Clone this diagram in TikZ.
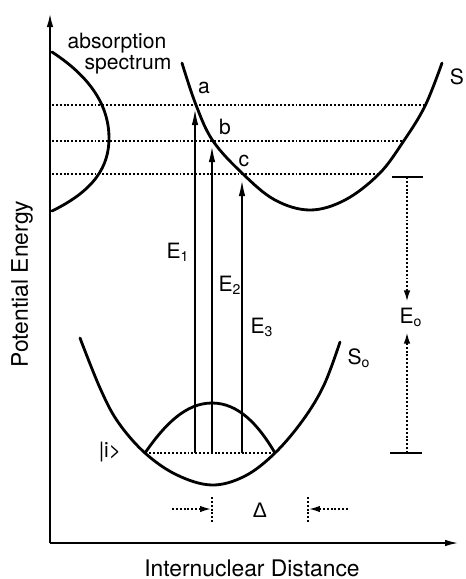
\documentclass[tikz,border=0pt]{standalone}
\usepackage{fontspec}
\setmainfont{TeX Gyre Heros}
\newfontfamily\greekfont{Liberation Sans}
\usetikzlibrary{arrows.meta}

\begin{document}
\begin{tikzpicture}[x=0.02cm, y=-0.02cm,
    font=\fontsize{12}{14}\selectfont,
    curve/.style={line width=1.6pt, line cap=round},
    axis/.style={line width=0.8pt, -{Latex[length=2.6mm, width=1.3mm]}},
    level/.style={line width=0.9pt, dash pattern=on 1.1pt off 1.1pt},
    transition/.style={line width=0.6pt, -{Latex[length=3mm, width=1.3mm]}},
    gaparrow/.style={level, -{Latex[length=2.2mm, width=1.3mm]}},
    bar/.style={line width=0.9pt},
    axislabel/.style={font=\fontsize{13}{15}\selectfont},
]
\useasboundingbox (0,0) rectangle (466,579);

% ─── Axes ────────────────────────────────────────────────────────
\coordinate (origin) at (50,543);
\coordinate (ytop)   at (50,14);
\coordinate (xend)   at (458,543);
\draw[axis] (origin) -- (ytop);
\draw[axis] (origin) -- (xend);

\node[axislabel, rotate=90] (ylab) at (22,284) {Potential Energy};
\node[axislabel] (xlab) at (252,568) {Internuclear Distance};

% ─── Absorption spectrum ─────────────────────────────────────────
\draw[curve] (52,52) .. controls (95,80) and (109,110) .. (109,138)
  .. controls (109,166) and (95,190) .. (52,211);
\node (abs)  at (117,43) {absorption};
\node (spec) at (128,65) {spectrum};

% ─── Excited state S ─────────────────────────────────────────────
\draw[curve] plot[smooth, tension=0.6] coordinates {
  (182,63) (196,105) (213,141) (243,174) (275,200) (310,210)
  (345,200) (379,174) (403,142) (425,106) (442,63)};
\node (labS) at (457,77) {S};

% ─── Ground state S0 and vibrational level ───────────────────────
\draw[curve] plot[smooth, tension=0.6] coordinates {
  (80,338) (100,388) (118,422) (145,453) (177,475) (212,485)
  (245,476) (275,453) (303,420) (324,385) (340,342)};
\node (labSo) at (359,358) {S\textsubscript{o}};

\coordinate (il) at (145,453);
\coordinate (ir) at (275,453);
\draw[curve] (il) .. controls (165,424) and (186,403) .. (212,403)
  .. controls (238,403) and (258,424) .. (ir);
\draw[level] (il) -- (ir);
\node (labI) at (110,452) {|i>};

% ─── Dotted levels a, b, c ───────────────────────────────────────
\coordinate (la) at (52,105);  \coordinate (ra) at (425,105);
\coordinate (lb) at (52,141);  \coordinate (rb) at (403,141);
\coordinate (lc) at (52,174);  \coordinate (rc) at (379,174);
\draw[level] (la) -- (ra);
\draw[level] (lb) -- (rb);
\draw[level] (lc) -- (rc);

\node (labA) at (204,88)  {a};
\node (labB) at (225,127) {b};
\node (labC) at (244,161) {c};

% ─── Transitions ─────────────────────────────────────────────────
\coordinate (e1b) at (195,453); \coordinate (e1t) at (195,110);
\coordinate (e2b) at (212,453); \coordinate (e2t) at (212,147);
\coordinate (e3b) at (242,453); \coordinate (e3t) at (242,181);
\draw[transition] (e1b) -- (e1t);
\draw[transition] (e2b) -- (e2t);
\draw[transition] (e3b) -- (e3t);

\node (labE1) at (178,252) {E\textsubscript{1}};
\node (labE2) at (230,285) {E\textsubscript{2}};
\node (labE3) at (262,327) {E\textsubscript{3}};

% ─── Energy gap E0 ───────────────────────────────────────────────
\coordinate (gtl) at (392,177); \coordinate (gtr) at (423,177);
\coordinate (gbl) at (390,453); \coordinate (gbr) at (422,453);
\draw[bar] (gtl) -- (gtr);
\draw[bar] (gbl) -- (gbr);
\node (labEo) at (411,317) {E\textsubscript{o}};
\draw[gaparrow] (407,177) -- (labEo.north -| 407,177);
\draw[gaparrow] (407,453) -- (labEo.south -| 407,453);

% ─── Displacement Delta ──────────────────────────────────────────
\coordinate (dlt) at (212,497); \coordinate (dlb) at (212,522);
\coordinate (drt) at (308,497); \coordinate (drb) at (308,522);
\draw[level] (dlt) -- (dlb);
\draw[level] (drt) -- (drb);
\node (labD) at (260,510) {\greekfont Δ};
\draw[gaparrow] (172,509) -- (211,509);
\draw[gaparrow] (348,509) -- (309,509);

\end{tikzpicture}
\end{document}
